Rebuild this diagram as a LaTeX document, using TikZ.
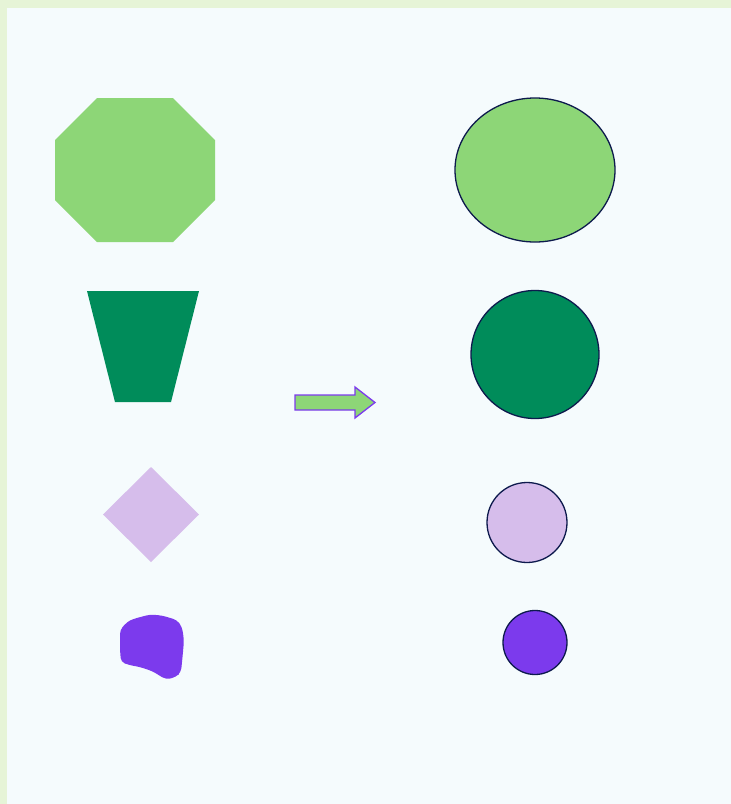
\documentclass[tikz,border=0pt]{standalone}
\usetikzlibrary{shapes.geometric}
\definecolor{outerbg}{HTML}{E6F4D7}
\definecolor{innerbg}{HTML}{F5FBFD}
\definecolor{lgreen}{HTML}{8DD677}
\definecolor{dgreen}{HTML}{008C5A}
\definecolor{lav}{HTML}{D6BDEB}
\definecolor{purp}{HTML}{7C3AED}
\definecolor{navy}{HTML}{0D1A4D}
\begin{document}
\begin{tikzpicture}[x=1pt,y=-1pt,
  target/.style={draw=navy,line width=1.3pt}]
\useasboundingbox (0,0) rectangle (731,804);
\fill[outerbg] (0,0) rectangle (731,804);
\fill[innerbg] (7,8) rectangle (731,804);
% left shapes
\fill[lgreen] (97,98) -- (173,98) -- (215,140) -- (215,200) -- (173,242) -- (97,242) -- (55,200) -- (55,140) -- cycle;
\fill[dgreen] (87,291) -- (199,291) -- (171,402) -- (115,402) -- cycle;
\fill[lav] (151,467) -- (199,514.5) -- (151,562) -- (103,514.5) -- cycle;
\fill[purp,rounded corners=4pt] (120,630) -- (127,622) -- (133,619) -- (150,614.5) -- (162,615.5) -- (177,620) -- (182,627) -- (184,640) -- (183,652) -- (181,672) -- (176,677) -- (166,679.5) -- (152,671) -- (140,667) -- (129,665) -- (121,662) -- (120,650) -- cycle;
% arrow
\draw[fill=lgreen,draw=purp,line width=1.3pt,line join=miter] (295,395) -- (355,395) -- (355,387) -- (375,402.5) -- (355,418) -- (355,410) -- (295,410) -- cycle;
% right shapes
\node[target,fill=lgreen,ellipse,minimum width=160pt,minimum height=144pt,inner sep=0pt] (e1) at (535,170) {};
\node[target,fill=dgreen,circle,minimum size=128pt,inner sep=0pt] (c1) at (535,354.5) {};
\node[target,fill=lav,circle,minimum size=80pt,inner sep=0pt] (c2) at (527,522.5) {};
\node[target,fill=purp,circle,minimum size=64pt,inner sep=0pt] (c3) at (535,642.5) {};
\end{tikzpicture}
\end{document}
